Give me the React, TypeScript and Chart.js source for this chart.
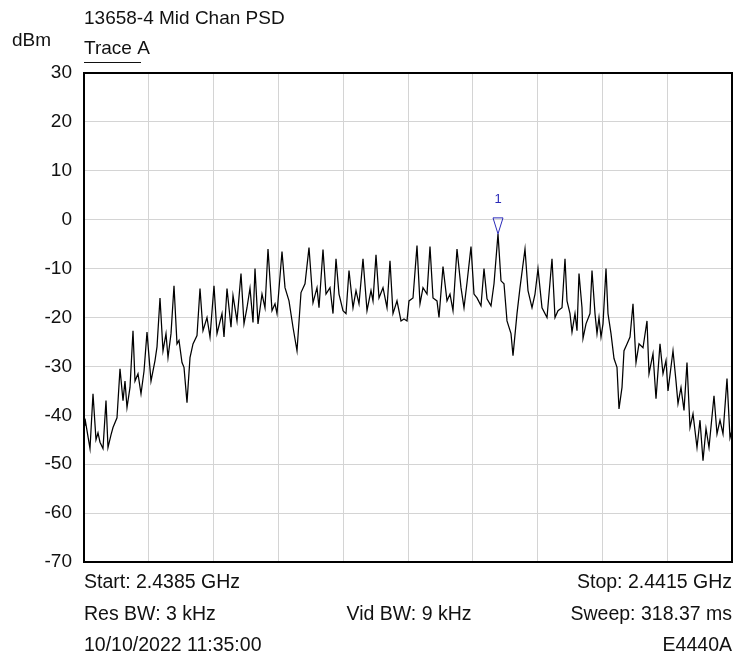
import React, { useEffect, useRef } from 'react';
import { Chart, registerables } from 'chart.js';

Chart.register(...registerables);

const chartTitle = '13658-4 Mid Chan PSD';
const traceName = 'Trace A';
const yUnit = 'dBm';
const startGHz = 2.4385;
const stopGHz = 2.4415;
const sweepPoints = 649;
const yMin = -70;
const yMax = 30;
const yStep = 10;
const xDivisions = 10;

const footerLeft = ['Start: 2.4385 GHz', 'Res BW: 3 kHz', '10/10/2022 11:35:00'];
const footerCenter = ['', 'Vid BW: 9 kHz', ''];
const footerRight = ['Stop: 2.4415 GHz', 'Sweep: 318.37 ms', 'E4440A'];

const markerLabel = '1';
const markerBin = 414;

// sweep bin index of each trace reading
const traceBins = [
  0, 1, 6, 9, 12, 14, 16, 19, 22, 24,
  27, 29, 33, 36, 39, 41, 43, 46, 49, 51,
  54, 57, 60, 63, 67, 71, 73, 76, 79, 82,
  84, 87, 90, 93, 95, 98, 100, 103, 106, 109,
  113, 116, 119, 123, 126, 130, 133, 138, 140, 143,
  147, 149, 153, 157, 160, 163, 166, 169, 171, 174,
  178, 181, 184, 188, 191, 193, 198, 201, 205, 209,
  213, 217, 221, 225, 229, 233, 235, 239, 242, 246,
  249, 252, 255, 259, 262, 265, 269, 272, 275, 279,
  283, 287, 289, 292, 295, 299, 303, 306, 309, 313,
  317, 320, 323, 325, 329, 333, 336, 339, 343, 346,
  349, 353, 355, 359, 363, 366, 369, 373, 377, 380,
  383, 387, 390, 393, 397, 400, 403, 407, 410, 414,
  417, 420, 423, 427, 429, 433, 436, 441, 444, 448,
  451, 454, 458, 463, 468, 471, 474, 478, 481, 483,
  486, 488, 491, 493, 495, 498, 499, 502, 506, 508,
  511, 513, 515, 517, 519, 522, 524, 527, 530, 533,
  535, 538, 540, 543, 546, 549, 552, 555, 559, 563,
  565, 569, 572, 576, 579, 582, 584, 589, 592, 594,
  597, 600, 603, 606, 609, 613, 616, 619, 622, 625,
  630, 633, 636, 639, 643, 646, 648,
];

// trace level (dBm) at each bin above
const traceDbm = [
  -42, -40.7, -46.8, -35.6, -45, -43.6, -45.5, -46.8, -37, -46.6,
  -44, -42.5, -40.5, -30.5, -37, -33, -38.4, -34.3, -22.7, -33,
  -31.5, -35.6, -31, -23, -33, -28.8, -26, -16, -26.8, -23.3,
  -28.2, -23.3, -13.5, -25.4, -24.7, -29.2, -30.2, -37.4, -28.2, -25.4,
  -23.7, -14.1, -22.7, -20, -24, -13.5, -23.3, -19.2, -24, -14.1,
  -22, -15.5, -20.7, -11, -21.3, -18, -14, -21, -10, -21.3,
  -15.2, -18, -6, -18.6, -17.2, -19.2, -6.5, -13.9, -16.6, -22,
  -26.8, -14.9, -13.1, -5.7, -17, -13.9, -18, -6.1, -15.2, -13.9,
  -19.2, -8, -15.2, -18.6, -19.2, -10.4, -18, -14.5, -17.2, -8,
  -18.6, -14.5, -16.6, -7.2, -16, -13.9, -18, -8.4, -19.2, -16.6,
  -20.7, -20.3, -20.7, -16.6, -16, -5.3, -17.2, -13.9, -15.2, -5.5,
  -16, -16.6, -20, -9.6, -16.6, -15.2, -18.6, -6, -13.9, -18,
  -12.9, -5.5, -15.2, -16, -17.6, -10, -16.2, -17.6, -13.1, -2.9,
  -12.5, -13.1, -20.7, -23.3, -27.8, -19.2, -13.9, -6, -14.5, -18,
  -15.2, -10, -18, -20, -8, -20, -18.6, -18, -8, -16.6,
  -19.2, -23, -19.2, -22.7, -11, -18, -24.3, -21.3, -19.2, -10.4,
  -19.2, -23.3, -20, -24, -21.3, -10, -19.2, -23.3, -28.4, -30.2,
  -38.7, -34.3, -26.8, -25.4, -24, -17.2, -29.2, -25.4, -26.2, -20.7,
  -31.5, -27.4, -36.6, -25.4, -31.5, -28.8, -35, -26.8, -33, -37.6,
  -34.3, -39, -29.2, -42.5, -39.7, -46.6, -41, -49.3, -42.7, -46.6,
  -36, -43.8, -41, -43.8, -32.5, -44.6, -43,
];

const FONT = '"Liberation Sans", Arial, Helvetica, sans-serif';
const binToGHz = (b: number) => startGHz + (b * (stopGHz - startGHz)) / (sweepPoints - 1);

export default function App() {
  const canvasRef = useRef<HTMLCanvasElement | null>(null);

  useEffect(() => {
    document.body.style.margin = '0';
    const canvas = canvasRef.current;
    if (!canvas) return;

    const points = traceBins.map((b, i) => ({ x: binToGHz(b), y: traceDbm[i] }));
    const markerIdx = traceBins.indexOf(markerBin);

    const overlay = {
      id: 'overlay',
      afterDraw(chart: any) {
        const { ctx, chartArea: a, scales } = chart;
        ctx.save();
        // frame
        ctx.strokeStyle = '#000';
        ctx.lineWidth = 2;
        ctx.strokeRect(a.left, a.top, a.right - a.left, a.bottom - a.top);

        ctx.fillStyle = '#111';
        ctx.font = `19px ${FONT}`;
        ctx.textBaseline = 'middle';
        ctx.textAlign = 'left';
        ctx.fillText(chartTitle, a.left, 19);
        ctx.fillText(traceName, a.left, 49);
        ctx.fillText(yUnit, 12, 41);
        ctx.strokeStyle = '#111';
        ctx.lineWidth = 1;
        ctx.beginPath();
        ctx.moveTo(a.left, 62.5);
        ctx.lineTo(a.left + 57, 62.5);
        ctx.stroke();

        ctx.font = `19.5px ${FONT}`;
        const rowY = [583, 615, 646];
        for (let r = 0; r < rowY.length; r++) {
          ctx.textAlign = 'left';
          ctx.fillText(footerLeft[r], a.left, rowY[r]);
          ctx.textAlign = 'center';
          if (footerCenter[r]) ctx.fillText(footerCenter[r], (a.left + a.right) / 2 + 1, rowY[r]);
          ctx.textAlign = 'right';
          ctx.fillText(footerRight[r], a.right, rowY[r]);
        }

        // marker
        if (markerIdx >= 0) {
          const mx = scales.x.getPixelForValue(binToGHz(markerBin));
          const my = scales.y.getPixelForValue(traceDbm[markerIdx]);
          ctx.strokeStyle = '#2b2bb8';
          ctx.lineWidth = 1;
          ctx.beginPath();
          ctx.moveTo(mx, my);
          ctx.lineTo(mx - 5, my - 16);
          ctx.lineTo(mx + 5, my - 16);
          ctx.closePath();
          ctx.stroke();
          ctx.fillStyle = '#2b2bb8';
          ctx.font = `13px ${FONT}`;
          ctx.textAlign = 'center';
          ctx.fillText(markerLabel, mx, my - 34);
        }
        ctx.restore();
      },
    };

    const chart = new Chart(canvas, {
      type: 'line',
      data: {
        datasets: [
          {
            label: traceName,
            data: points,
            borderColor: '#000',
            borderWidth: 1.25,
            pointRadius: 0,
            tension: 0,
            fill: false,
          },
        ],
      },
      options: {
        animation: false,
        responsive: false,
        maintainAspectRatio: false,
        devicePixelRatio: 1,
        parsing: false,
        layout: { padding: { left: 0, right: 2, top: 73, bottom: 0 } },
        plugins: {
          legend: { display: false },
          tooltip: { enabled: false },
          title: { display: false },
        },
        scales: {
          x: {
            type: 'linear',
            min: startGHz,
            max: stopGHz,
            afterBuildTicks: (scale: any) => {
              const ticks = [];
              for (let i = 0; i <= xDivisions; i++) {
                ticks.push({ value: startGHz + (i * (stopGHz - startGHz)) / xDivisions });
              }
              scale.ticks = ticks;
            },
            afterFit: (scale: any) => {
              scale.height = 92;
            },
            ticks: { display: false },
            grid: { color: '#d4d4d4', lineWidth: 1, drawTicks: false },
            border: { display: false },
          },
          y: {
            type: 'linear',
            min: yMin,
            max: yMax,
            afterFit: (scale: any) => {
              scale.width = 84;
            },
            ticks: {
              stepSize: yStep,
              color: '#111',
              padding: 12,
              font: { family: FONT, size: 19 },
            },
            grid: { color: '#d4d4d4', lineWidth: 1, drawTicks: false },
            border: { display: false },
          },
        },
      },
      plugins: [overlay],
    } as any);

    return () => chart.destroy();
  }, []);

  return (
    <div style={{ position: 'fixed', left: 0, top: 0, width: 734, height: 654, background: '#fff' }}>
      <canvas ref={canvasRef} width={734} height={654} style={{ width: 734, height: 654 }} />
    </div>
  );
}
